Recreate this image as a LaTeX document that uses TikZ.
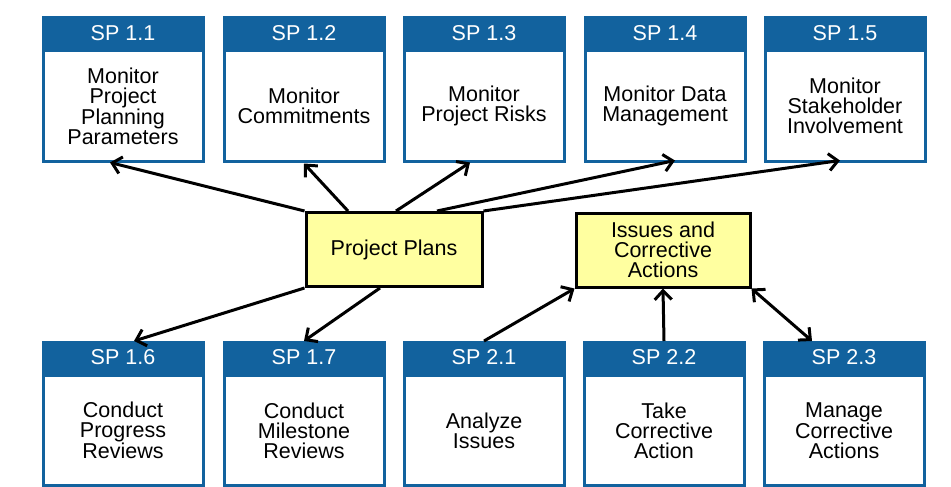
\documentclass[tikz,border=0pt]{standalone}
\usepackage{fontspec}
\setmainfont{Liberation Sans}
\usetikzlibrary{positioning,arrows.meta}
\definecolor{spblue}{RGB}{18,98,158}
\definecolor{planyellow}{RGB}{255,255,160}

\begin{document}
\begin{tikzpicture}[x=1pt,y=-1pt,
  head/.style={rectangle, draw=spblue, fill=spblue, line width=3pt, text=white,
    minimum width=160pt, minimum height=30pt, inner sep=0pt,
    font=\fontsize{21.5}{20}\selectfont},
  body/.style={rectangle, draw=spblue, fill=white, line width=3pt, align=center,
    minimum width=160pt, minimum height=110pt, inner sep=0pt,
    font=\fontsize{21.5}{20}\selectfont},
  work/.style={rectangle, draw=black, fill=planyellow, line width=3pt, align=center,
    minimum height=74pt, inner sep=0pt, font=\fontsize{21.5}{20}\selectfont},
  link/.style={line width=3pt, -{Straight Barb[length=9pt,width=17pt]}},
  both/.style={line width=3pt, {Straight Barb[length=9pt,width=17pt]}-{Straight Barb[length=9pt,width=17pt]}}]
\useasboundingbox (0,0) rectangle (951,487);

% top row
\node[head] (h11) at (123,33) {SP 1.1};
\node[body, below=0pt of h11] (b11) {Monitor\\Project\\Planning\\Parameters};
\node[head] (h12) at (304,33) {SP 1.2};
\node[body, below=0pt of h12] (b12) {Monitor\\Commitments};
\node[head] (h13) at (484,33) {SP 1.3};
\node[body, below=0pt of h13] (b13) {Monitor\\Project Risks};
\node[head] (h14) at (665,33) {SP 1.4};
\node[body, below=0pt of h14] (b14) {Monitor Data\\Management};
\node[head] (h15) at (845,33) {SP 1.5};
\node[body, below=0pt of h15] (b15) {Monitor\\Stakeholder\\Involvement};

% bottom row
\node[head] (h16) at (123,357.5) {SP 1.6};
\node[body, below=0pt of h16] (b16) {Conduct\\Progress\\Reviews};
\node[head] (h17) at (304,357.5) {SP 1.7};
\node[body, below=0pt of h17] (b17) {Conduct\\Milestone\\Reviews};
\node[head] (h21) at (484,357.5) {SP 2.1};
\node[body, below=0pt of h21] (b21) {Analyze\\Issues};
\node[head] (h22) at (664,357.5) {SP 2.2};
\node[body, below=0pt of h22] (b22) {Take\\Corrective\\Action};
\node[head] (h23) at (844,357.5) {SP 2.3};
\node[body, below=0pt of h23] (b23) {Manage\\Corrective\\Actions};

% work products
\node[work, minimum width=176pt] (plans) at (394,249.5) {Project Plans};
\node[work, minimum width=174pt] (issues) at (663,250) {Issues and\\Corrective\\Actions};

\draw[link] (plans.north west) -- ([xshift=-13pt]b11.south);
\draw[link] ([xshift=-46pt]plans.north) -- ([yshift=-1pt]b12.south);
\draw[link] ([xshift=2pt]plans.north) -- ([xshift=-14pt]b13.south);
\draw[link] ([xshift=43pt]plans.north) -- ([xshift=10pt,yshift=2pt]b14.south);
\draw[link] (plans.north east) -- ([xshift=-5pt,yshift=2pt]b15.south);
\draw[link] (plans.south west) -- ([xshift=11pt]h16.north);
\draw[link] ([xshift=-14pt]plans.south) -- (h17.north);

\draw[link] (h21.north) -- (issues.south west);
\draw[link] (h22.north) -- (issues.south);
\draw[both] (issues.south east) -- ([xshift=-32pt]h23.north);

\end{tikzpicture}
\end{document}
